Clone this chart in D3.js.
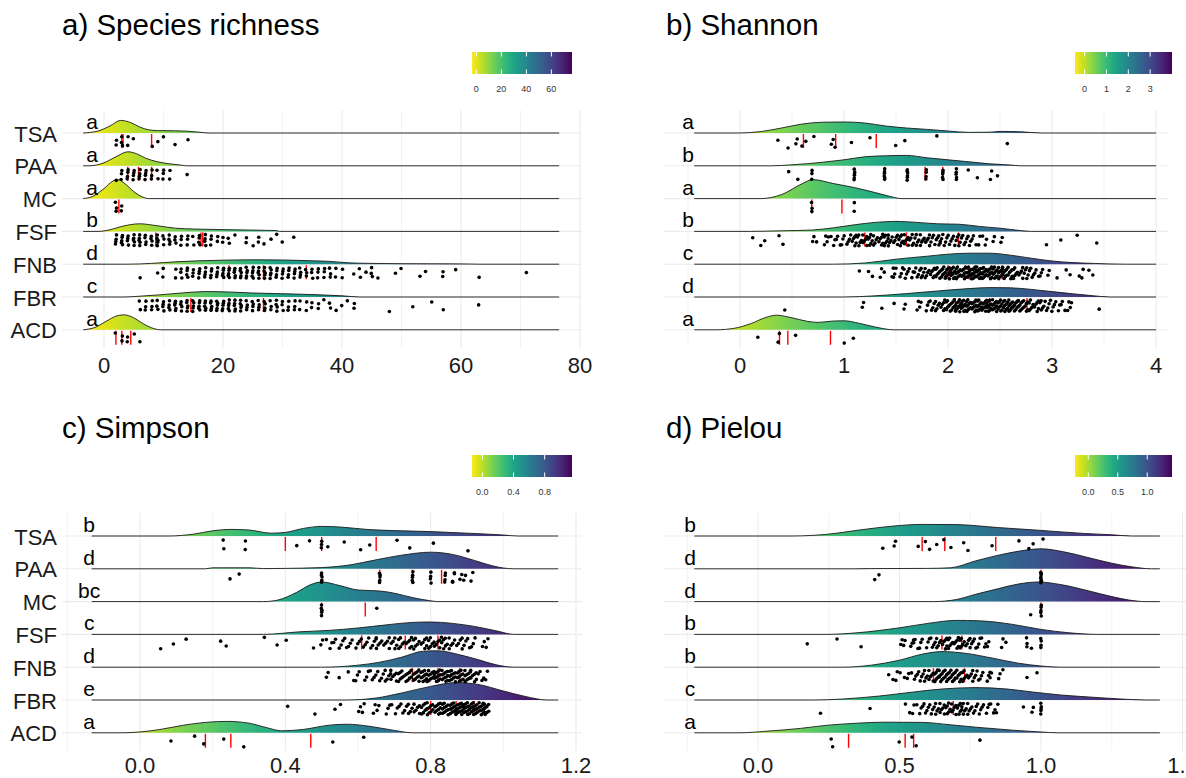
<!DOCTYPE html>
<html><head><meta charset="utf-8">
<script src="https://cdn.jsdelivr.net/npm/d3@7"></script>
<style>body{margin:0;background:#fff} svg{display:block} text{font-family:"Liberation Sans",Arial,Helvetica,sans-serif}</style>
</head><body><svg id="chart" width="1186" height="778"></svg>
<script>
// ---------------- DATA ----------------
const categories = ["TSA","PAA","MC","FSF","FNB","FBR","ACD"];

// a) Species richness
const richnessTicks = [0,20,40,60,80];
const richnessLegendTicks = [0,20,40,60];
const richnessLetters = ["a","a","a","b","d","c","a"];
const richnessRange = [-3.5, 76.5];
const richnessDensity = [
  [[-3.5,0],[-1,0.1],[1,0.35],[2.8,0.63],[4.5,0.52],[6,0.3],[7.5,0.16],[9,0.12],[12,0.11],[14,0.09],[16,0.04],[17.5,0]],
  [[-2.5,0],[0,0.15],[2,0.45],[4,0.7],[5.5,0.6],[7,0.38],[9,0.2],[11,0.1],[13,0.03],[14,0]],
  [[-3.5,0],[-2,0.1],[0,0.5],[1.5,0.88],[2.3,0.95],[3.5,0.75],[5,0.35],[6.5,0.08],[7.5,0]],
  [[-1,0],[1,0.08],[3,0.25],[6,0.38],[9,0.28],[12,0.16],[15,0.12],[18,0.1],[22,0.08],[26,0.06],[29,0.04],[29.5,0]],
  [[4,0],[8,0.04],[12,0.12],[16,0.17],[20,0.2],[25,0.22],[30,0.21],[35,0.17],[38,0.14],[41,0.07],[45,0.04],[50,0.025],[55,0.02],[60,0.015],[63,0]],
  [[3.5,0],[6,0.04],[9,0.1],[13,0.2],[17,0.27],[21,0.25],[25,0.2],[29,0.17],[33,0.14],[37,0.1],[40,0.06],[43,0]],
  [[-3.5,0],[-1.5,0.12],[0.5,0.45],[2,0.68],[3.3,0.75],[5,0.6],[6.5,0.32],[8,0.1],[9.5,0]]
];
const richnessPoints = [
  [[2,2],[3,3],[4,2],[5,1],[8,1],[9,1],[10,1],[12,1],[14,1]],
  [[2,1],[3,3],[4,4],[5,4],[6,4],[7,4],[8,3],[9,2],[10,3],[11,2],[14,1]],
  [[2,3],[3,2]],
  [[2,4],[3,5],[4,4],[5,5],[6,5],[7,4],[8,4],[9,5],[10,3],[11,4],[12,3],[13,3],[14,3],[15,2],[16,4],[17,4],[18,3],[19,2],[20,2],[21,2],[22,1],[24,2],[25,1],[26,2],[27,1],[28,1],[29,1],[30,1],[32,1]],
  [[6,1],[9,1],[10,2],[12,2],[13,3],[14,4],[15,3],[16,4],[17,4],[18,4],[19,4],[20,5],[21,5],[22,5],[23,5],[24,5],[25,5],[26,5],[27,5],[28,5],[29,4],[30,4],[31,4],[32,4],[33,4],[34,3],[35,3],[36,3],[37,3],[38,3],[39,2],[40,2],[42,1],[43,2],[44,1],[45,3],[46,1],[49,1],[50,1],[53,1],[54,1],[57,2],[59,1],[63,1],[71,1]],
  [[6,2],[7,3],[8,3],[9,3],[10,4],[11,4],[12,5],[13,4],[14,5],[15,5],[16,5],[17,5],[18,5],[19,5],[20,5],[21,5],[22,5],[23,5],[24,4],[25,4],[26,4],[27,4],[28,3],[29,4],[30,3],[31,3],[32,3],[33,2],[34,2],[35,2],[36,2],[37,1],[38,2],[39,1],[40,1],[41,1],[42,2],[48,1],[52,1],[55,1],[57,1],[63,1]],
  [[2,1],[3,2],[4,2],[5,1],[6,1]]
];
const richnessQuantiles = [[3,3.2,8],[4,5.8,8],[2.5],[8.7,16.3,16.6],[21,26.8,34],[14.6,21,26.8],[2,3,4.5]];
const richnessTies = [[],[],[],[],[],[],[]];

// b) Shannon
const shannonTicks = [0,1,2,3,4];
const shannonLegendTicks = [0,1,2,3];
const shannonLetters = ["a","b","a","b","c","d","a"];
const shannonRange = [-0.44, 4.0];
const shannonDensity = [
  [[-0.02,0],[0.2,0.07],[0.4,0.25],[0.6,0.45],[0.8,0.54],[1.0,0.55],[1.2,0.5],[1.4,0.35],[1.6,0.25],[1.8,0.18],[2.0,0.1],[2.2,0.03],[2.4,0.04],[2.5,0.08],[2.7,0.06],[2.9,0]],
  [[0.3,0],[0.5,0.05],[0.8,0.18],[1.0,0.3],[1.2,0.45],[1.4,0.5],[1.6,0.52],[1.8,0.4],[2.0,0.3],[2.2,0.2],[2.4,0.1],[2.6,0.04],[2.7,0]],
  [[0.2,0],[0.4,0.2],[0.6,0.75],[0.7,0.95],[0.9,0.75],[1.1,0.55],[1.3,0.3],[1.45,0.1],[1.55,0]],
  [[0.1,0],[0.4,0.03],[0.7,0.07],[0.9,0.18],[1.1,0.33],[1.3,0.45],[1.5,0.5],[1.7,0.45],[1.9,0.38],[2.1,0.36],[2.3,0.25],[2.5,0.16],[2.7,0.04],[2.8,0]],
  [[0.9,0],[1.2,0.06],[1.5,0.25],[1.8,0.4],[2.0,0.5],[2.2,0.55],[2.4,0.55],[2.6,0.45],[2.8,0.3],[3.0,0.16],[3.2,0.08],[3.4,0.04],[3.7,0]],
  [[1.0,0],[1.3,0.06],[1.6,0.17],[1.9,0.3],[2.2,0.42],[2.4,0.47],[2.6,0.46],[2.8,0.38],[3.0,0.27],[3.2,0.16],[3.4,0.06],[3.56,0]],
  [[-0.23,0],[-0.05,0.08],[0.1,0.3],[0.25,0.62],[0.35,0.73],[0.5,0.6],[0.65,0.42],[0.75,0.37],[0.9,0.44],[1.0,0.45],[1.15,0.32],[1.3,0.14],[1.48,0]]
];
const shannonPoints = [
  [[0.37,1],[0.48,1],[0.53,2],[0.6,1],[0.65,1],[0.69,1],[0.87,1],[0.9,1],[0.93,1],[1.05,1],[1.24,1],[1.5,1],[1.6,1],[1.87,1],[2.56,1]],
  [[0.47,1],[0.57,1],[0.69,3],[1.1,6],[1.39,6],[1.61,6],[1.79,4],[1.95,5],[2.08,5],[2.2,1],[2.3,1],[2.4,2],[2.48,1]],
  [[0.69,3],[1.1,2]],
  [[0.1,1],[0.19,1],[0.24,1],[0.39,2],[0.7,2],[0.75,1],[0.8,2],[0.85,2],[0.9,3],[0.95,3],[1.0,3],[1.05,4],[1.1,6],[1.15,5],[1.2,6],[1.25,6],[1.3,5],[1.35,6],[1.4,6],[1.45,5],[1.5,5],[1.55,6],[1.6,6],[1.65,5],[1.7,5],[1.75,5],[1.8,5],[1.85,4],[1.9,5],[1.95,4],[2.0,4],[2.05,4],[2.1,5],[2.15,4],[2.2,4],[2.25,3],[2.3,2],[2.35,3],[2.45,2],[2.5,2],[2.95,1],[3.1,1],[3.22,1],[3.42,1]],
  [[1.15,1],[1.25,2],[1.35,2],[1.4,1],[1.45,2],[1.5,3],[1.55,3],[1.6,4],[1.65,3],[1.7,4],[1.75,5],[1.8,5],[1.85,6],[1.9,7],[1.95,8],[2.0,9],[2.05,9],[2.1,10],[2.15,10],[2.2,11],[2.25,11],[2.3,11],[2.35,10],[2.4,10],[2.45,9],[2.5,9],[2.55,8],[2.6,7],[2.65,6],[2.7,5],[2.75,5],[2.8,4],[2.85,3],[2.9,3],[2.95,2],[3.05,1],[3.15,2],[3.25,1],[3.3,2],[3.38,2]],
  [[0.43,1],[1.2,2],[1.35,1],[1.48,1],[1.6,2],[1.7,2],[1.75,2],[1.8,3],[1.85,4],[1.9,5],[1.95,6],[2.0,7],[2.05,8],[2.1,9],[2.15,9],[2.2,10],[2.25,10],[2.3,10],[2.35,10],[2.4,10],[2.45,10],[2.5,9],[2.55,9],[2.6,9],[2.65,8],[2.7,8],[2.75,7],[2.8,6],[2.85,6],[2.9,5],[2.95,4],[3.0,4],[3.05,3],[3.1,3],[3.15,2],[3.2,2],[3.44,1]],
  [[0.17,1],[0.39,2],[0.52,1],[1.0,1],[1.1,1]]
];
const shannonQuantiles = [[0.61,0.92,1.31],[1.39,1.78,1.95],[0.69,0.98],[1.2,1.6,2.1],[2.0,2.2,2.52],[2.07,2.4,2.76],[0.38,0.46,0.87]];
const shannonTies = [[],[0.69,1.1,1.39,1.61,1.79,1.95,2.08],[0.69,1.1],[],[],[],[]];

// c) Simpson
const simpsonTicks = [0,0.4,0.8,1.2];
const simpsonLegendTicks = [0,0.4,0.8];
const simpsonLetters = ["b","d","bc","c","d","e","a"];
const simpsonRange = [-0.133, 1.151];
const simpsonDensity = [
  [[0.08,0],[0.15,0.1],[0.2,0.26],[0.25,0.33],[0.3,0.3],[0.36,0.14],[0.4,0.18],[0.45,0.38],[0.5,0.48],[0.55,0.45],[0.63,0.32],[0.7,0.27],[0.8,0.22],[0.9,0.14],[1.0,0.05],[1.04,0]],
  [[0.18,0],[0.2,0.05],[0.3,0.05],[0.34,0.01],[0.4,0.02],[0.5,0.06],[0.58,0.2],[0.65,0.45],[0.72,0.68],[0.8,0.83],[0.86,0.72],[0.92,0.42],[0.97,0.15],[1.0,0.04],[1.03,0]],
  [[0.34,0],[0.38,0.08],[0.43,0.45],[0.47,0.85],[0.5,0.98],[0.55,0.8],[0.6,0.58],[0.66,0.53],[0.7,0.42],[0.75,0.2],[0.8,0.04],[0.82,0]],
  [[0.34,0],[0.44,0.13],[0.52,0.2],[0.6,0.32],[0.68,0.48],[0.75,0.6],[0.8,0.62],[0.86,0.55],[0.92,0.4],[0.98,0.18],[1.03,0]],
  [[0.5,0],[0.6,0.1],[0.66,0.25],[0.72,0.5],[0.78,0.8],[0.82,0.82],[0.88,0.62],[0.93,0.38],[0.98,0.12],[1.03,0]],
  [[0.57,0],[0.65,0.1],[0.72,0.35],[0.8,0.68],[0.87,0.87],[0.93,0.78],[1.0,0.45],[1.06,0.18],[1.12,0]],
  [[-0.05,0],[0.05,0.15],[0.12,0.38],[0.18,0.52],[0.24,0.57],[0.3,0.48],[0.35,0.25],[0.39,0.1],[0.45,0.17],[0.52,0.38],[0.57,0.43],[0.63,0.33],[0.7,0.12],[0.75,0]]
];
const simpsonPoints = [
  [[0.23,2],[0.29,2],[0.44,1],[0.46,1],[0.5,3],[0.51,1],[0.56,1],[0.61,1],[0.64,1],[0.7,1],[0.74,1],[0.81,1],[0.91,1]],
  [[0.24,1],[0.27,1],[0.5,5],[0.66,5],[0.75,5],[0.8,4],[0.84,4],[0.86,2],[0.87,2],[0.88,2],[0.9,2],[0.91,2]],
  [[0.5,5],[0.66,1]],
  [[0.05,1],[0.09,1],[0.13,1],[0.23,2],[0.34,1],[0.38,1],[0.41,1],[0.47,1],[0.5,2],[0.52,3],[0.54,3],[0.56,4],[0.58,3],[0.6,4],[0.62,4],[0.64,4],[0.66,5],[0.68,5],[0.7,5],[0.72,6],[0.74,6],[0.76,6],[0.78,6],[0.8,6],[0.82,6],[0.84,6],[0.86,5],[0.88,5],[0.9,4],[0.92,3],[0.94,2],[0.96,2]],
  [[0.51,2],[0.55,1],[0.58,2],[0.6,3],[0.62,3],[0.64,4],[0.66,4],[0.68,5],[0.7,6],[0.72,7],[0.74,8],[0.76,9],[0.78,10],[0.8,10],[0.82,11],[0.84,11],[0.86,11],[0.88,10],[0.9,9],[0.92,7],[0.94,4],[0.96,2]],
  [[0.4,1],[0.48,1],[0.54,1],[0.56,1],[0.6,2],[0.62,2],[0.64,2],[0.66,2],[0.68,3],[0.7,3],[0.72,4],[0.74,5],[0.76,6],[0.78,7],[0.8,9],[0.82,10],[0.84,11],[0.86,12],[0.88,13],[0.9,13],[0.92,13],[0.94,12],[0.95,8]],
  [[0.09,1],[0.16,1],[0.17,1],[0.23,1],[0.29,1],[0.54,1],[0.61,1]]
];
const simpsonQuantiles = [[0.4,0.5,0.65],[0.66,0.75,0.83],[0.5,0.62],[0.61,0.73,0.82],[0.75,0.82,0.88],[0.8,0.87,0.92],[0.18,0.25,0.47]];
const simpsonTies = [[0.5,0.29,0.23],[0.5,0.66,0.75,0.8,0.84],[0.5],[],[],[],[]];

// d) Pielou
const pielouTicks = [0,0.5,1.0,1.5];
const pielouLegendTicks = [0,0.5,1.0];
const pielouLetters = ["b","d","d","b","b","c","a"];
const pielouRange = [-0.225, 1.42];
const pielouDensity = [
  [[0.12,0],[0.24,0.08],[0.37,0.32],[0.48,0.5],[0.58,0.58],[0.7,0.57],[0.85,0.42],[1.0,0.28],[1.15,0.13],[1.25,0.06],[1.32,0]],
  [[0.34,0],[0.4,0.01],[0.6,0.02],[0.68,0.05],[0.77,0.4],[0.85,0.68],[0.93,0.9],[1.0,1.0],[1.08,0.85],[1.17,0.55],[1.25,0.28],[1.32,0.1],[1.39,0]],
  [[0.62,0],[0.7,0.1],[0.77,0.37],[0.85,0.65],[0.92,0.88],[0.99,0.98],[1.07,0.85],[1.17,0.53],[1.25,0.25],[1.31,0.08],[1.37,0]],
  [[0.24,0],[0.35,0.08],[0.5,0.33],[0.6,0.55],[0.7,0.7],[0.78,0.68],[0.9,0.5],[1.0,0.25],[1.1,0.08],[1.2,0]],
  [[0.3,0],[0.4,0.1],[0.5,0.35],[0.58,0.65],[0.65,0.78],[0.73,0.7],[0.83,0.45],[0.92,0.2],[1.0,0.06],[1.07,0]],
  [[0.2,0],[0.3,0.05],[0.43,0.2],[0.55,0.4],[0.65,0.55],[0.77,0.62],[0.88,0.55],[0.97,0.4],[1.07,0.25],[1.17,0.15],[1.27,0.06],[1.37,0]],
  [[-0.07,0],[0.05,0.1],[0.15,0.22],[0.24,0.37],[0.35,0.48],[0.45,0.53],[0.58,0.52],[0.68,0.4],[0.77,0.28],[0.9,0.13],[1.0,0.04],[1.06,0]]
];
const pielouPoints = [
  [[0.44,1],[0.49,2],[0.56,1],[0.59,1],[0.61,1],[0.64,1],[0.65,1],[0.68,1],[0.73,1],[0.75,1],[0.82,1],[0.92,1],[0.96,1],[0.98,1],[1.0,1]],
  [[0.41,1],[0.43,1],[1.0,8]],
  [[0.97,1],[1.0,5]],
  [[0.17,1],[0.28,1],[0.37,1],[0.5,2],[0.52,2],[0.54,3],[0.56,3],[0.58,3],[0.6,3],[0.62,4],[0.64,5],[0.66,6],[0.68,6],[0.7,6],[0.72,6],[0.74,5],[0.76,4],[0.78,3],[0.8,3],[0.82,2],[0.86,2],[0.88,1],[0.95,3],[0.97,1],[1.0,4]],
  [[0.47,2],[0.49,2],[0.51,2],[0.53,2],[0.55,3],[0.57,4],[0.59,5],[0.61,6],[0.63,7],[0.65,8],[0.67,8],[0.69,8],[0.71,7],[0.73,6],[0.75,5],[0.77,4],[0.79,3],[0.81,3],[0.83,2],[0.85,2],[0.87,1],[0.96,1],[0.98,1]],
  [[0.22,1],[0.4,1],[0.53,2],[0.55,2],[0.57,3],[0.59,4],[0.61,4],[0.63,5],[0.65,6],[0.67,6],[0.69,6],[0.71,6],[0.73,5],[0.75,5],[0.77,4],[0.79,4],[0.81,3],[0.83,3],[0.85,2],[0.93,1],[0.97,2],[1.0,5]],
  [[0.25,1],[0.26,1],[0.5,1],[0.55,2],[0.78,1]]
];
const pielouQuantiles = [[0.58,0.66,0.84],[1.0],[1.0],[0.65,0.72],[0.62,0.73],[0.69],[0.32,0.52,0.55]];
const pielouTies = [[],[1.0],[1.0],[1.0,0.95],[],[1.0],[]];

// ---------------- LAYOUT ----------------
const panels = [
  {title:"a) Species richness", ticks:richnessTicks, legendTicks:richnessLegendTicks, letters:richnessLetters, range:richnessRange,
   density:richnessDensity, points:richnessPoints, quant:richnessQuantiles, ties:richnessTies, fmt:d3.format("d"), legFmt:d3.format("d"),
   dom:[0,80], px:[104,580], left:62, right:582, dy:0, ylab:true, letterX:-2, jit:0.12, leg:[472,572], grid:d3.range(0,81,10)},
  {title:"b) Shannon", ticks:shannonTicks, legendTicks:shannonLegendTicks, letters:shannonLetters, range:shannonRange,
   density:shannonDensity, points:shannonPoints, quant:shannonQuantiles, ties:shannonTies, fmt:d3.format("d"), legFmt:d3.format("d"),
   dom:[0,4], px:[740,1156], left:664, right:1168, dy:0, ylab:false, letterX:-0.5, jit:0.025, leg:[1075,1172], grid:d3.range(-0.5,4.01,0.5)},
  {title:"c) Simpson", ticks:simpsonTicks, legendTicks:simpsonLegendTicks, letters:simpsonLetters, range:simpsonRange,
   density:simpsonDensity, points:simpsonPoints, quant:simpsonQuantiles, ties:simpsonTies, fmt:d3.format(".1f"), legFmt:d3.format(".1f"),
   dom:[0,1.2], px:[140,576], left:62, right:582, dy:403, ylab:true, letterX:-0.14, jit:0.01, leg:[472,572], grid:d3.range(-0.2,1.21,0.2)},
  {title:"d) Pielou", ticks:pielouTicks, legendTicks:pielouLegendTicks, letters:pielouLetters, range:pielouRange,
   density:pielouDensity, points:pielouPoints, quant:pielouQuantiles, ties:pielouTies, fmt:d3.format(".1f"), legFmt:d3.format(".1f"),
   dom:[0,1], px:[758,1041], left:664, right:1190, dy:403, ylab:false, letterX:-0.24, jit:0.01, leg:[1075,1172], grid:d3.range(-0.25,1.51,0.25)}
];

const svg = d3.select("#chart");
const defs = svg.append("defs");
const hScale = d3.scaleLinear().domain([0,1]).range([0,20]);
let gi = 0;

function addGradient(id, x1, x2){
  const g = defs.append("linearGradient").attr("id", id).attr("gradientUnits","userSpaceOnUse")
    .attr("x1", x1).attr("x2", x2).attr("y1",0).attr("y2",0);
  d3.range(0,1.0001,0.05).forEach(t => g.append("stop").attr("offset", t).attr("stop-color", d3.interpolateViridis(1-t)));
}

panels.forEach((p, pi) => {
  const x = d3.scaleLinear().domain(p.dom).range(p.px);
  const y = d3.scalePoint().domain(categories).range([133 + p.dy, 329.8 + p.dy]);
  const g = svg.append("g");
  const gridTop = 110 + p.dy, gridBot = 348 + p.dy;

  // grid
  p.grid.forEach(v => {
    const major = p.ticks.some(t => Math.abs(t - v) < 1e-6);
    g.append("line").attr("x1", x(v)).attr("x2", x(v)).attr("y1", gridTop).attr("y2", gridBot)
      .attr("stroke", "#ebebeb").attr("stroke-width", major ? 1.1 : 0.6);
  });
  categories.forEach(c => {
    g.append("line").attr("x1", p.left).attr("x2", p.right).attr("y1", y(c)).attr("y2", y(c))
      .attr("stroke", "#ebebeb").attr("stroke-width", 1.1);
  });

  // gradient
  const gid = "grad" + pi;
  addGradient(gid, x(p.range[0]), x(p.range[1]));

  // ridges
  categories.forEach((c, ci) => {
    const base = y(c);
    const dens = p.density[ci];
    const pts = [[p.range[0],0]].concat(dens.filter(d => d[0] > p.range[0] && d[0] < p.range[1])).concat([[p.range[1],0]]);
    const area = d3.area().x(d => x(d[0])).y0(base).y1(d => base - hScale(d[1])).curve(d3.curveMonotoneX);
    const line = d3.line().x(d => x(d[0])).y(d => base - hScale(d[1])).curve(d3.curveMonotoneX);
    g.append("path").attr("d", area(pts)).attr("fill", `url(#${gid})`);
    g.append("path").attr("d", line(pts)).attr("fill", "none").attr("stroke", "#1a1a1a").attr("stroke-width", 0.9);
  });

  // quantile lines
  categories.forEach((c, ci) => {
    const base = y(c);
    p.quant[ci].forEach(q => {
      g.append("line").attr("x1", x(q)).attr("x2", x(q)).attr("y1", base + 1).attr("y2", base + 15)
        .attr("stroke", "#ff0000").attr("stroke-width", 1.4);
    });
  });

  // points
  categories.forEach((c, ci) => {
    const base = y(c);
    const ties = p.ties[ci];
    const out = [];
    p.points[ci].forEach(([v, n]) => {
      const tied = ties.some(t => Math.abs(t - v) < 1e-9);
      const jw = tied ? p.jit * 0.12 : p.jit;
      for (let k = 0; k < n; k++) {
        gi++;
        const gg = (gi * 0.6180339887 + 0.31) % 1;
        const hh = (gi * 0.7548776662 + 0.17) % 1;
        const u = n > 1 ? (k + 0.5 + 0.6 * (gg - 0.5)) / n : gg;
        out.push({v: v + (hh - 0.5) * 2 * jw, u});
      }
    });
    g.selectAll(null).data(out).enter().append("circle")
      .attr("cx", d => x(d.v)).attr("cy", d => base + 2.5 + 12.5 * d.u).attr("r", 1.8).attr("fill", "#000");
  });

  // letters
  categories.forEach((c, ci) => {
    g.append("text").attr("x", x(p.letterX)).attr("y", y(c) - 4).attr("text-anchor", "middle")
      .attr("font-size", 21).attr("fill", "#000").text(p.letters[ci]);
  });

  // y labels
  if (p.ylab) {
    categories.forEach(c => {
      g.append("text").attr("x", 57).attr("y", y(c) + 1).attr("text-anchor", "end").attr("dominant-baseline", "central")
        .attr("font-size", 22).attr("fill", "#1a1a1a").text(c);
    });
  }

  // x axis tick labels
  const tickY = p.dy ? 765 : 365;
  p.ticks.forEach(t => {
    g.append("text").attr("x", x(t)).attr("y", tickY).attr("text-anchor", "middle").attr("dominant-baseline", "central")
      .attr("font-size", 22).attr("fill", "#1a1a1a").text(p.fmt(t));
  });

  // title
  g.append("text").attr("x", p.left === 62 ? 62 : 666).attr("y", 35 + p.dy).attr("font-size", 29.5).attr("fill", "#000").text(p.title);

  // legend
  const lg = "leg" + pi;
  addGradient(lg, p.leg[0], p.leg[1]);
  const ly0 = 52 + p.dy, ly1 = 74 + p.dy;
  g.append("rect").attr("x", p.leg[0]).attr("y", ly0).attr("width", p.leg[1] - p.leg[0]).attr("height", ly1 - ly0).attr("fill", `url(#${lg})`);
  const lx = d3.scaleLinear().domain(p.range).range(p.leg);
  p.legendTicks.forEach(t => {
    g.append("line").attr("x1", lx(t)).attr("x2", lx(t)).attr("y1", ly0).attr("y2", ly0 + 4.5).attr("stroke", "#fff").attr("stroke-width", 1);
    g.append("line").attr("x1", lx(t)).attr("x2", lx(t)).attr("y1", ly1 - 4.5).attr("y2", ly1).attr("stroke", "#fff").attr("stroke-width", 1);
    g.append("text").attr("x", lx(t)).attr("y", 89 + p.dy).attr("text-anchor", "middle").attr("dominant-baseline", "central")
      .attr("font-size", 9).attr("fill", "#333").text(p.legFmt(t));
  });
});
</script></body></html>
